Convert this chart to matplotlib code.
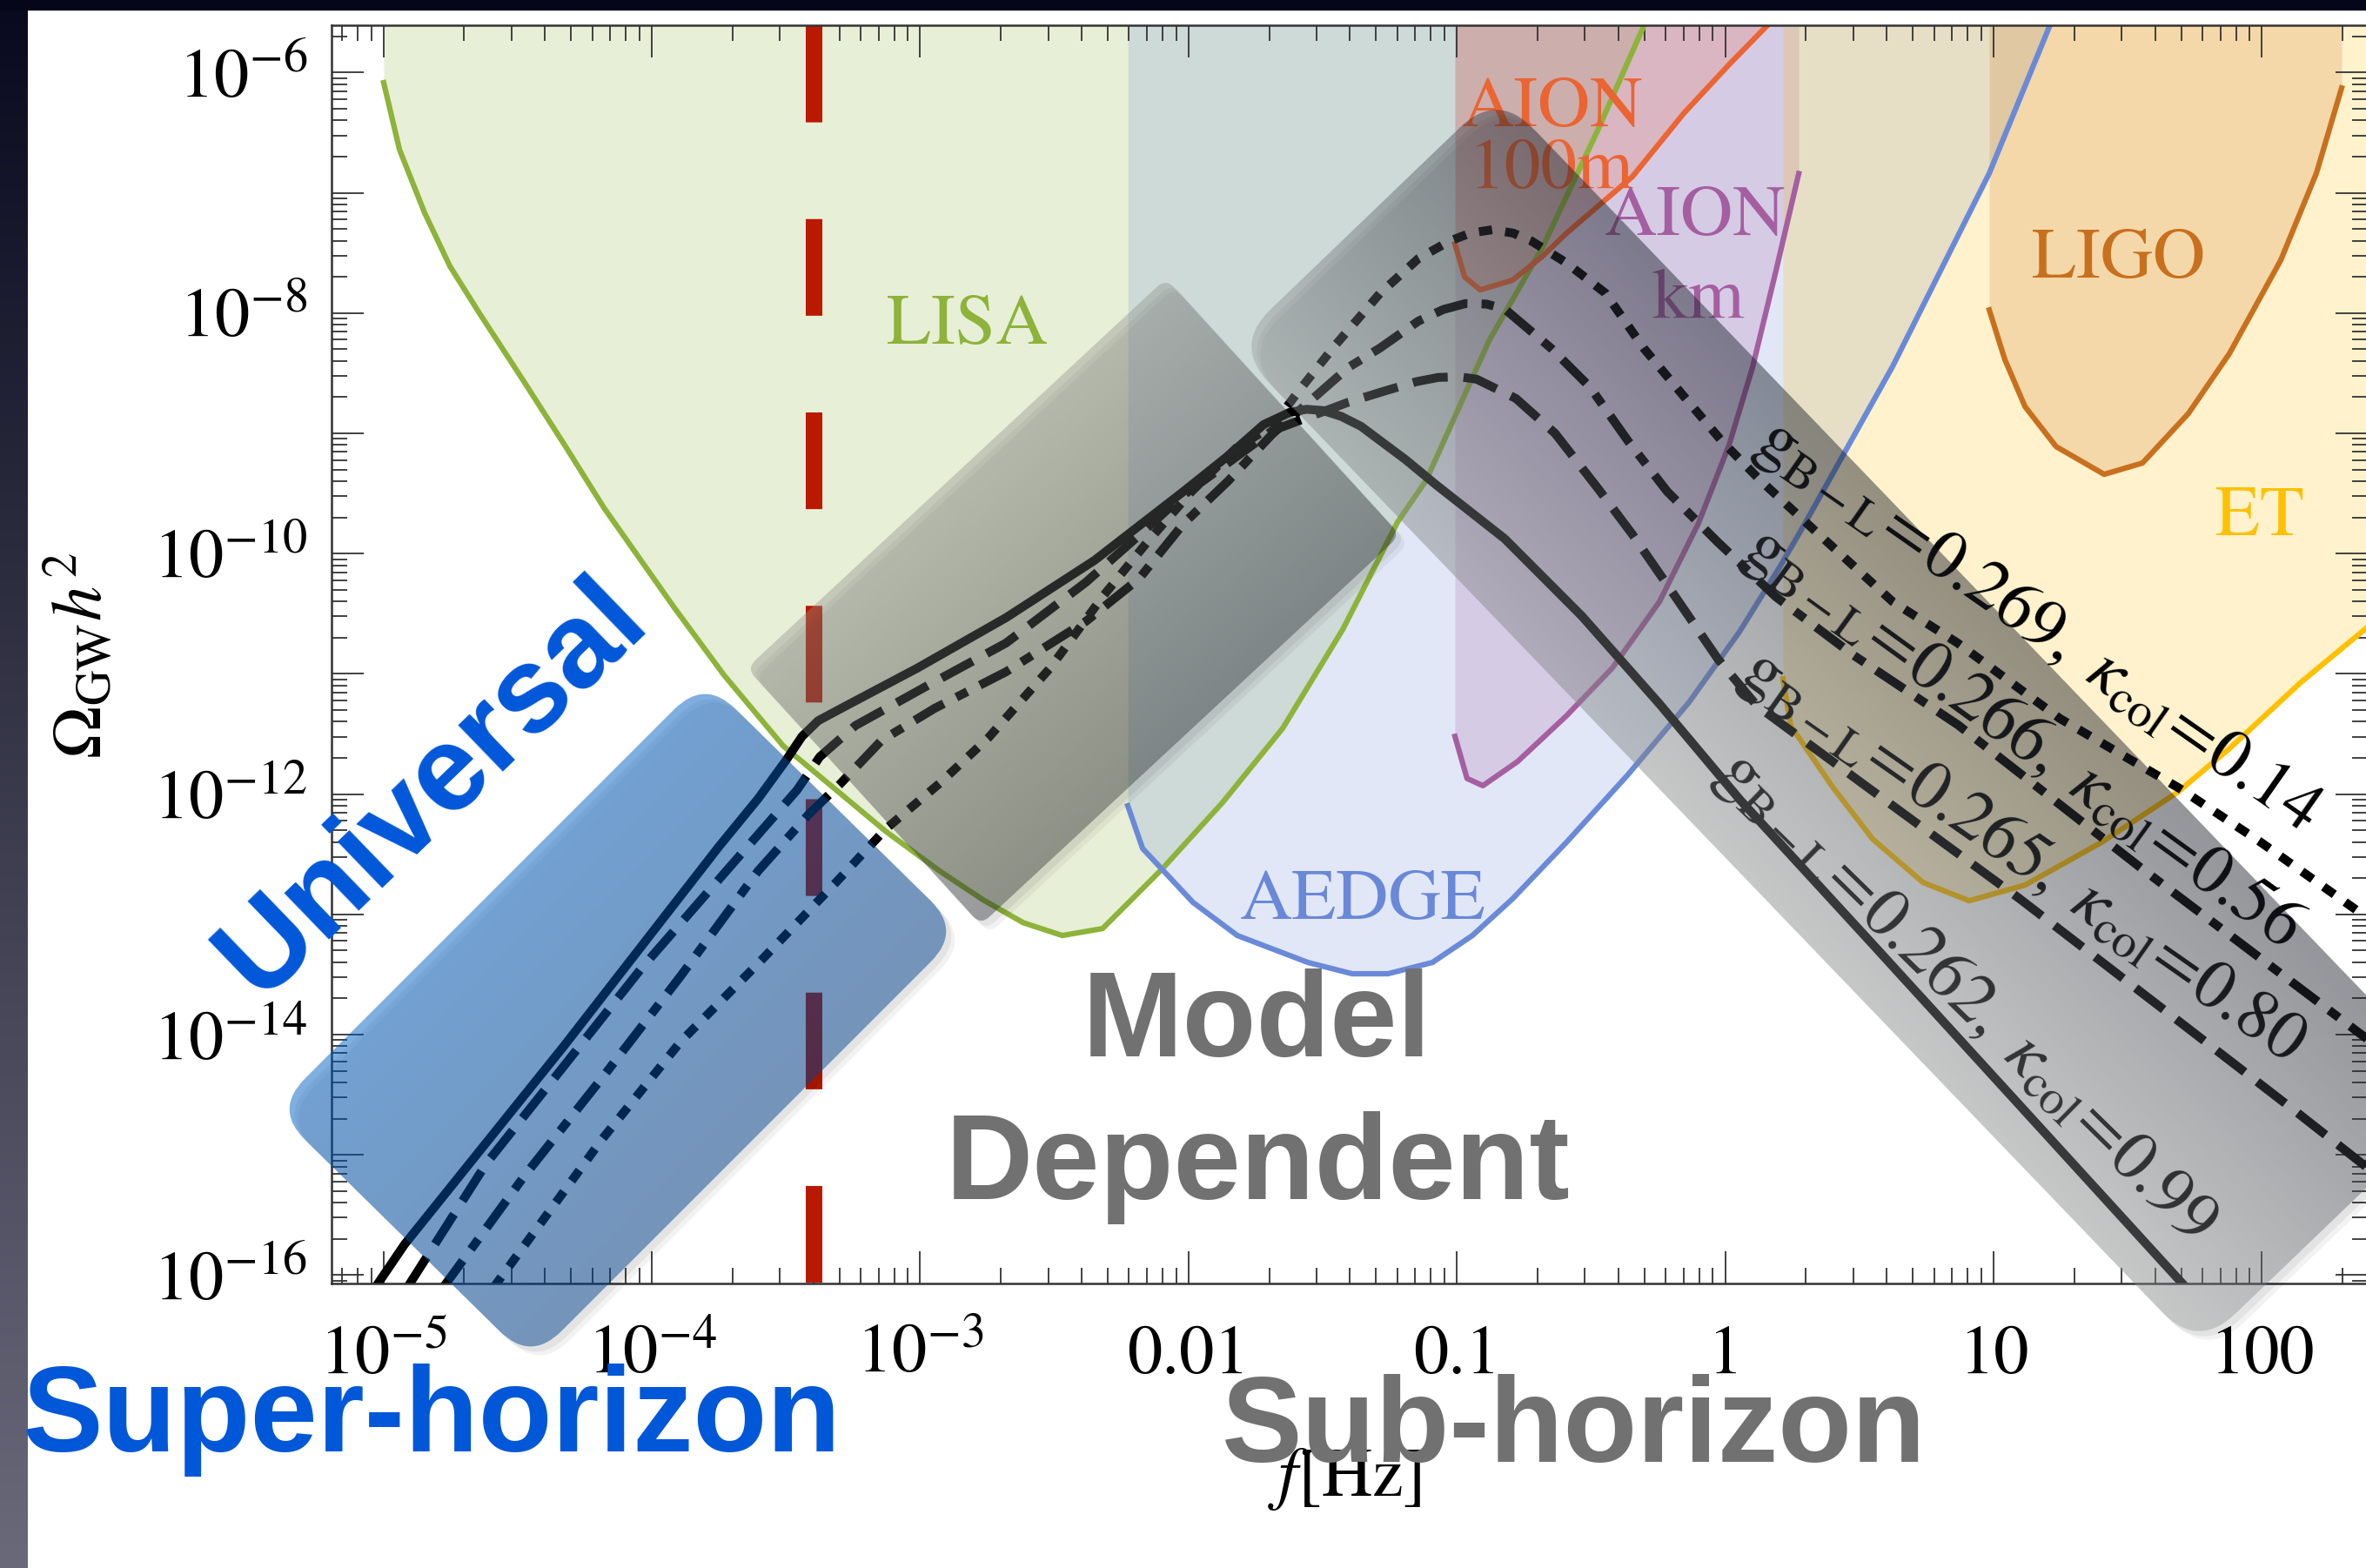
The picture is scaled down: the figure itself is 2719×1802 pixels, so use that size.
import numpy as np
import matplotlib
matplotlib.use("Agg")
import matplotlib.pyplot as plt
from matplotlib.path import Path
from matplotlib.patches import PathPatch, Rectangle
from matplotlib.ticker import FixedLocator, FixedFormatter, LogLocator, NullFormatter

plt.rcParams['font.family'] = 'STIXGeneral'
plt.rcParams['mathtext.fontset'] = 'stix'

W, H, DPI = 2719, 1802, 100

# ---------------- data (log10 f [Hz], log10 Omega_GW h^2) ----------------
lisa_lf = [-4.999, -4.940, -4.846, -4.752, -4.642, -4.473, -4.324, -4.178, -3.916, -3.731,
           -3.510, -3.316, -3.128, -2.927, -2.765, -2.615, -2.470, -2.320, -2.097, -1.873,
           -1.649, -1.425, -1.221, -1.114, -0.880, -0.680, -0.475, -0.297]
lisa_lo = [-6.084, -6.641, -7.169, -7.611, -8.002, -8.581, -9.100, -9.620, -10.450, -11.010,
           -11.600, -11.960, -12.310, -12.640, -12.880, -13.070, -13.176, -13.118, -12.620, -12.070,
           -11.453, -10.630, -9.738, -9.390, -8.230, -7.450, -6.480, -5.580]

aedge_lf = [-2.226, -2.171, -1.983, -1.818, -1.555, -1.390, -1.257, -1.091, -0.942, -0.793,
            -0.592, -0.365, -0.135, 0.053, 0.206, 0.300, 0.624, 0.984, 1.214]
aedge_lo = [-12.098, -12.452, -12.901, -13.176, -13.400, -13.494, -13.494, -13.400, -13.176, -12.872,
            -12.402, -11.845, -11.237, -10.651, -10.101, -9.738, -8.443, -6.837, -5.585]

aionkm_lf = [-1.007, -0.962, -0.903, -0.774, -0.592, -0.420, -0.245, -0.100, 0.014, 0.102, 0.189, 0.274]
aionkm_lo = [-11.52, -11.87, -11.93, -11.73, -11.35, -10.95, -10.40, -9.75, -9.10, -8.45, -7.65, -6.84]

aion100_lf = [-1.007, -0.971, -0.913, -0.793, -0.683, -0.592, -0.346, -0.154, 0.018, 0.167]
aion100_lo = [-7.425, -7.700, -7.807, -7.727, -7.532, -7.337, -6.866, -6.338, -5.925, -5.585]

et_lf = [0.215, 0.244, 0.397, 0.549, 0.737, 0.909, 1.117, 1.402, 1.687, 1.879, 2.145, 2.388, 2.450]
et_lo = [-11.041, -11.432, -11.931, -12.373, -12.735, -12.887, -12.757, -12.402, -11.983, -11.621,
         -11.071, -10.622, -10.500]

ligo_lf = [0.984, 1.042, 1.117, 1.233, 1.412, 1.555, 1.726, 1.879, 2.070, 2.203, 2.297]
ligo_lo = [-7.974, -8.386, -8.777, -9.110, -9.341, -9.247, -8.835, -8.336, -7.561, -6.837, -6.128]

# spectra for the four benchmark points
k099_lf = [-5.031, -4.921, -4.327, -3.750, -3.604, -3.500, -3.440, -3.380, -3.293, -3.011,
           -2.680, -2.350, -2.019, -1.853, -1.720, -1.623, -1.560, -1.500, -1.430, -1.357,
           -1.192, -1.078, -0.822, -0.534, -0.245, 0.056, 0.550, 1.720]
k099_lo = [-16.105, -15.744, -14.094, -12.437, -12.039, -11.720, -11.520, -11.390, -11.286, -10.953,
           -10.533, -10.056, -9.484, -9.188, -8.927, -8.826, -8.800, -8.810, -8.860, -8.942,
           -9.217, -9.427, -9.876, -10.520, -11.250, -12.050, -13.250, -16.110]

k080_lf = [-4.910, -4.616, -4.327, -4.039, -3.750, -3.459, -3.374, -3.241, -2.979, -2.680,
           -2.382, -2.184, -2.019, -1.853, -1.688, -1.403, -1.257, -1.150, -1.069, -0.990,
           -0.926, -0.780, -0.634, -0.475, -0.346, -0.216, -0.028, 0.118, 0.504, 1.097,
           1.691, 2.138, 2.400]
k080_lo = [-16.100, -15.070, -14.260, -13.450, -12.710, -11.967, -11.690, -11.430, -11.106, -10.744,
           -10.238, -9.847, -9.514, -9.246, -8.978, -8.740, -8.640, -8.570, -8.535, -8.530,
           -8.550, -8.710, -9.000, -9.456, -9.840, -10.260, -10.874, -11.265, -11.900, -12.870,
           -13.890, -14.660, -15.120]

k056_lf = [-4.778, -4.473, -4.185, -3.893, -3.604, -3.416, -3.300, -3.144, -2.946, -2.680,
           -2.382, -2.184, -2.019, -1.853, -1.688, -1.403, -1.286, -1.143, -1.050, -0.968,
           -0.890, -0.822, -0.650, -0.504, -0.362, -0.216, -0.028, 0.189, 0.478, 0.867,
           1.541, 2.400]
k056_lo = [-16.105, -15.170, -14.360, -13.515, -12.640, -12.170, -11.920, -11.554, -11.287, -10.983,
           -10.563, -10.208, -9.752, -9.398, -9.007, -8.450, -8.290, -8.066, -7.970, -7.921,
           -7.925, -7.965, -8.290, -8.615, -9.064, -9.484, -9.904, -10.360, -10.845, -11.424,
           -12.600, -14.050]

k014_lf = [-4.590, -4.185, -3.893, -3.604, -3.316, -3.128, -2.927, -2.745, -2.515, -2.317,
           -2.152, -1.987, -1.821, -1.688, -1.588, -1.458, -1.286, -1.143, -1.027, -0.950,
           -0.868, -0.790, -0.722, -0.592, -0.446, -0.304, -0.158, -0.012, 0.131, 0.335,
           0.624, 0.867, 1.246, 1.691, 1.989, 2.400]
k014_lo = [-16.105, -14.870, -14.060, -13.410, -12.740, -12.290, -11.910, -11.530, -10.950, -10.350,
           -9.900, -9.480, -9.120, -8.940, -8.645, -8.280, -7.835, -7.546, -7.401, -7.335,
           -7.307, -7.335, -7.401, -7.582, -7.835, -8.291, -8.682, -9.066, -9.391, -9.811,
           -10.400, -10.745, -11.370, -11.950, -12.390, -13.040]

spec_labels = [r'$\mathrm{g}_{\mathrm{B-L}}\!=\!0.269,\ \kappa_{\mathrm{col}}\!=\!0.14$',
               r'$\mathrm{g}_{\mathrm{B-L}}\!=\!0.266,\ \kappa_{\mathrm{col}}\!=\!0.56$',
               r'$\mathrm{g}_{\mathrm{B-L}}\!=\!0.265,\ \kappa_{\mathrm{col}}\!=\!0.80$',
               r'$\mathrm{g}_{\mathrm{B-L}}\!=\!0.262,\ \kappa_{\mathrm{col}}\!=\!0.99$']

f_horizon = 4.0e-4   # red dashed marker

xtick_vals = [1e-5, 1e-4, 1e-3, 1e-2, 1e-1, 1, 10, 100]
xtick_labels = [r'$10^{-5}$', r'$10^{-4}$', r'$10^{-3}$', '0.01', '0.1', '1', '10', '100']
ytick_exps = list(range(-16, -5))
ytick_labels = [r'$10^{%d}$' % e if e % 2 == 0 else '' for e in ytick_exps]

# ---------------- figure ----------------
fig = plt.figure(figsize=(W / DPI, H / DPI), dpi=DPI)
fig.patch.set_facecolor('white')

ax = fig.add_axes([381 / W, 1 - 1475 / H, (2721 - 381) / W, (1475 - 28.7) / H])
ax.set_xscale('log')
ax.set_yscale('log')
xlo, xhi = 10 ** -5.1933, 10 ** 2.3943
ylo, yhi = 10 ** -16.0695, 10 ** -5.6042

detectors = [
    (lisa_lf, lisa_lo, '#8db33a'),
    (aedge_lf, aedge_lo, '#6a8ad8'),
    (aionkm_lf, aionkm_lo, '#a55fa0'),
    (aion100_lf, aion100_lo, '#eb6432'),
    (et_lf, et_lo, '#ffc000'),
    (ligo_lf, ligo_lo, '#c8701e'),
]
for lf, lo, col in detectors:
    f = 10 ** np.array(lf)
    om = 10 ** np.array(lo)
    ax.fill_between(f, om, 1e-3, color=col, alpha=0.2, lw=0)
    ax.plot(f, om, color=col, lw=4.5, solid_joinstyle='round')

# red dashed line
ax.plot([f_horizon, f_horizon], [yhi, ylo], color='#b91900', lw=13.7,
        linestyle=(0, (5.84, 5.84)), dash_capstyle='butt')

specs = [
    (k014_lf, k014_lo, (0, (1.5, 1.5))),
    (k056_lf, k056_lo, (0, (3.8, 1.6, 1.4, 1.6))),
    (k080_lf, k080_lo, (0, (4.0, 1.8))),
    (k099_lf, k099_lo, '-'),
]
for lf, lo, ls in specs:
    ax.plot(10 ** np.array(lf), 10 ** np.array(lo), color='black', lw=7.3,
            linestyle=ls, dash_capstyle='butt', solid_joinstyle='round')

# labels of the spectra (centre in data coords, angle)
lab_pos = [(1.165, -10.606, -35), (1.104, -11.534, -36), (1.107, -12.518, -35), (0.896, -13.69, -44.5)]
for s, (lf, lo, rot) in zip(spec_labels, lab_pos):
    ax.text(10 ** lf, 10 ** lo, s, rotation=rot, rotation_mode='anchor',
            ha='center', va='center', fontsize=58, color='black')

det_text = [
    ('LISA', -2.823, -8.12, '#8db33a'),
    ('AION', -0.644, -6.31, '#eb6432'),
    ('100m', -0.650, -6.82, '#eb6432'),
    ('AION', -0.112, -7.21, '#a55fa0'),
    ('km', -0.099, -7.90, '#a55fa0'),
    ('AEDGE', -1.351, -12.90, '#6a88d8'),
    ('LIGO', 1.467, -7.57, '#c8701e'),
    ('ET', 1.992, -9.71, '#ffc000'),
]
for s, lf, lo, col in det_text:
    ax.text(10 ** lf, 10 ** lo, s, color=col, fontsize=60, ha='center', va='center')

ax.set_xlim(xlo, xhi)
ax.set_ylim(ylo, yhi)

ax.xaxis.set_major_locator(FixedLocator(xtick_vals))
ax.xaxis.set_major_formatter(FixedFormatter(xtick_labels))
ax.xaxis.set_minor_locator(LogLocator(base=10, subs=np.arange(2, 10), numticks=100))
ax.xaxis.set_minor_formatter(NullFormatter())
ax.yaxis.set_major_locator(FixedLocator([10.0 ** e for e in ytick_exps]))
ax.yaxis.set_major_formatter(FixedFormatter(ytick_labels))
ax.yaxis.set_minor_locator(LogLocator(base=10, subs=np.arange(2, 10), numticks=100))
ax.yaxis.set_minor_formatter(NullFormatter())
ax.tick_params(which='both', direction='in', top=True, right=True, width=1.3, color='#333333')
ax.tick_params(which='major', length=26.5)
ax.tick_params(which='minor', length=13)
ax.tick_params(axis='x', pad=74, labelsize=58)
ax.tick_params(axis='y', pad=20, labelsize=58)
for lab in ax.get_xticklabels():
    lab.set_verticalalignment('baseline')
for sp in ax.spines.values():
    sp.set_linewidth(1.8)
    sp.set_color('#333333')

fig.text(92 / W, 1 - 754 / H, r'$\Omega_{\rm GW}h^2$', rotation=90, ha='center', va='center', fontsize=58)
fig.text(1545 / W, 1 - 1700 / H, r'$f[\mathrm{Hz}]$', ha='center', va='center', fontsize=58)

# ---------------- overlay boxes & captions (figure pixels) ----------------
ov = fig.add_axes([0, 0, 1, 1], zorder=5)
ov.patch.set_visible(False)
ov.axis('off')

gy, gx = np.mgrid[0:H:4, 0:W:4] + 2.0


def rounded_path(corner, lvec, svec, r):
    c = np.asarray(corner, float)
    lvec = np.asarray(lvec, float)
    svec = np.asarray(svec, float)
    pts = [c, c + lvec, c + lvec + svec, c + svec]
    verts, codes = [], []
    for i, p in enumerate(pts):
        prv, nxt = pts[i - 1], pts[(i + 1) % 4]
        a = p + (prv - p) / np.linalg.norm(prv - p) * r
        b = p + (nxt - p) / np.linalg.norm(nxt - p) * r
        verts.append(a)
        codes.append(Path.MOVETO if i == 0 else Path.LINETO)
        verts += [p, b]
        codes += [Path.CURVE3, Path.CURVE3]
    verts.append(verts[0])
    codes.append(Path.CLOSEPOLY)
    return Path(verts, codes)


def gradient_box(corner, lvec, svec, r, c_light, c_dark, alpha, z):
    # faint drop shadow
    for k, a in ((10, 0.05), (6, 0.06)):
        sh = PathPatch(rounded_path((corner[0] + k, corner[1] + k), lvec, svec, r),
                       facecolor='black', edgecolor='none', alpha=a, zorder=z - 0.5)
        ov.add_patch(sh)
    patch = PathPatch(rounded_path(corner, lvec, svec, r), facecolor='none', edgecolor='none')
    ov.add_patch(patch)
    sv = np.asarray(svec, float)
    t = ((gx - corner[0]) * sv[0] + (gy - corner[1]) * sv[1]) / (sv @ sv)
    t = np.clip(t, 0, 1)[..., None]
    c0 = np.array(c_light) / 255.0
    c1 = np.array(c_dark) / 255.0
    rgb = c0 + t * (c1 - c0)
    rgba = np.concatenate([rgb, np.full(t.shape, alpha)], axis=-1)
    im = ov.imshow(rgba, extent=(0, W, H, 0), origin='upper', aspect='auto',
                   interpolation='bilinear', zorder=z)
    im.set_clip_path(patch)


gradient_box((858, 768), (482, -448), (269, 295), 14, (142, 145, 140), (42, 45, 48), 0.4, 2)
gradient_box((1417, 397), (1109, 1154), (304, -292), 60, (155, 158, 158), (30, 35, 47), 0.4, 3)
gradient_box((315, 1275), (495, -495), (295, 290), 50, (0, 95, 193), (5, 69, 145), 0.5, 4)

# dark frame of the slide
strip = np.linspace(0, 1, 200)[:, None, None] * (np.array([105, 105, 122]) - np.array([10, 10, 30])) / 255.0 \
    + np.array([10, 10, 30]) / 255.0
ov.imshow(np.repeat(strip, 2, axis=1), extent=(0, 32, H, 0), origin='upper', aspect='auto', zorder=20)
ov.add_patch(Rectangle((0, 0), W, 11, color='#06061a', zorder=21))

bold = dict(family='Liberation Sans', weight='bold', fontsize=100, zorder=30)
ov.text(498, 906, 'Universal', color='#0057d8', rotation=44, rotation_mode='anchor',
        ha='center', va='center', **bold)
ov.text(26, 1668, 'Super-horizon', color='#0057d8', ha='left', va='baseline', **bold)
ov.text(1404, 1680, 'Sub-horizon', color='#717171', ha='left', va='baseline', **bold)
ov.text(1444, 1214, 'Model', color='#717171', ha='center', va='baseline', **bold)
ov.text(1446, 1378, 'Dependent', color='#717171', ha='center', va='baseline', **bold)

ov.set_xlim(0, W)
ov.set_ylim(H, 0)

fig.savefig('out.png', dpi=DPI)
